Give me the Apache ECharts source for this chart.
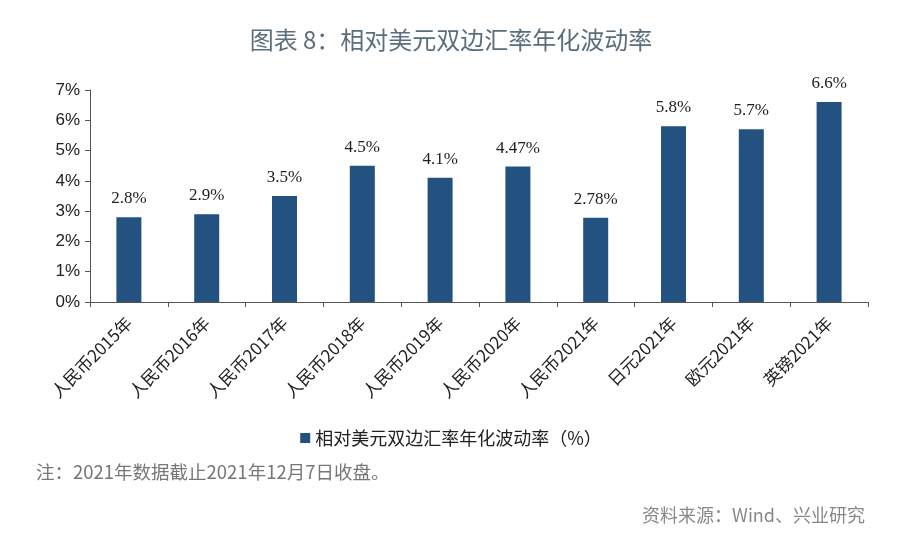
<!DOCTYPE html>
<html>
<head>
<meta charset="utf-8">
<script src="https://cdn.jsdelivr.net/npm/echarts@6/dist/echarts.min.js"></script>
<style>
  html, body { margin: 0; padding: 0; background: #fff; }
  #main { width: 902px; height: 542px; }
</style>
</head>
<body>
<div id="main"></div>
<script>
const categories = ['人民币2015年', '人民币2016年', '人民币2017年', '人民币2018年', '人民币2019年',
  '人民币2020年', '人民币2021年', '日元2021年', '欧元2021年', '英镑2021年']
const volatility = [2.8, 2.9, 3.5, 4.5, 4.1, 4.47, 2.78, 5.8, 5.7, 6.6]
const seriesName = '相对美元双边汇率年化波动率（%）'

const chart = echarts.init(document.getElementById('main'))

const option = {
  backgroundColor: '#fff',
  animation: false,
  title: [
    {
      text: '图表 8：相对美元双边汇率年化波动率',
      left: 'center',
      top: 23,
      textStyle: { fontFamily: 'Noto Sans CJK SC', fontSize: 24, fontWeight: 'normal', color: '#5b6e7d' }
    },
    {
      text: '注：2021年数据截止2021年12月7日收盘。',
      left: 31,
      top: 458,
      textStyle: { fontFamily: 'Noto Sans CJK SC', fontSize: 18.5, fontWeight: 'normal', color: '#777' }
    },
    {
      text: '资料来源：Wind、兴业研究',
      right: 32,
      top: 501,
      textStyle: { fontFamily: 'Noto Sans CJK SC', fontSize: 18, fontWeight: 'normal', color: '#888' }
    }
  ],
  legend: {
    data: [seriesName],
    top: 424,
    left: 'center',
    itemWidth: 10,
    itemHeight: 10,
    itemGap: 6,
    icon: 'rect',
    textStyle: { fontFamily: 'Noto Sans CJK SC', fontSize: 18, color: '#222' }
  },
  grid: { left: 90, right: 34, top: 90, bottom: 240, containLabel: false },
  xAxis: {
    type: 'category',
    data: categories,
    axisLine: { lineStyle: { color: '#555', width: 1 } },
    axisTick: { show: true, length: 5, lineStyle: { color: '#555' } },
    axisLabel: {
      rotate: 45,
      interval: 0,
      margin: 18,
      fontFamily: 'Noto Sans CJK SC',
      fontSize: 17,
      color: '#222'
    }
  },
  yAxis: {
    type: 'value',
    min: 0,
    max: 7,
    interval: 1,
    splitLine: { show: false },
    axisLine: { show: true, lineStyle: { color: '#555', width: 1 } },
    axisTick: { show: true, length: 5, lineStyle: { color: '#555' } },
    axisLabel: {
      formatter: '{value}%',
      fontFamily: 'Liberation Sans',
      fontSize: 17,
      color: '#222',
      margin: 10
    }
  },
  series: [
    {
      name: seriesName,
      type: 'bar',
      data: volatility,
      barWidth: 25,
      itemStyle: { color: '#235180' },
      label: {
        show: true,
        position: 'top',
        distance: 10,
        formatter: '{c}%',
        fontFamily: 'Liberation Serif',
        fontSize: 17,
        color: '#222'
      }
    }
  ]
}

chart.setOption(option)
</script>
</body>
</html>
